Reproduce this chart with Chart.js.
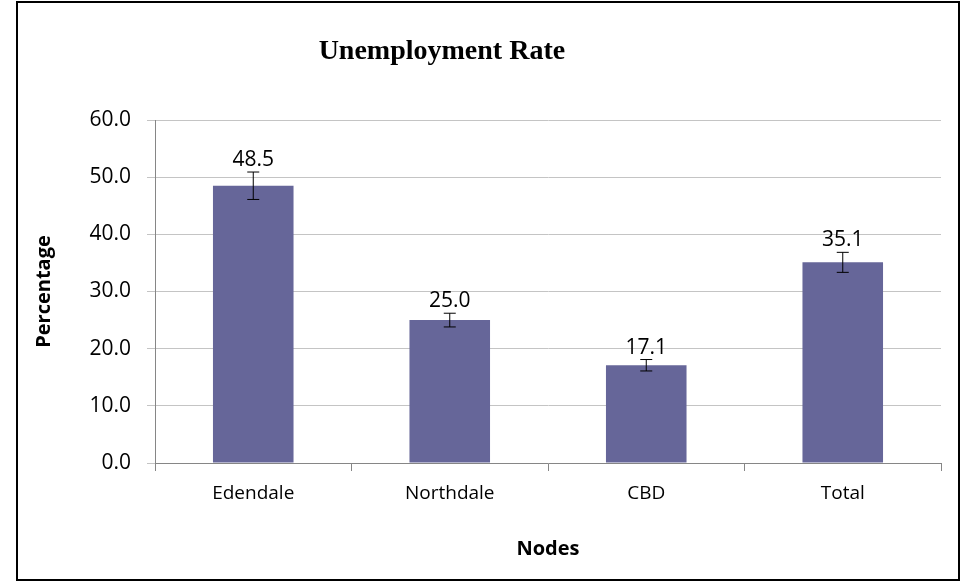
<!DOCTYPE html>
<html>
<head>
<meta charset="utf-8">
<script src="https://cdn.jsdelivr.net/npm/chart.js@4.4.1/dist/chart.umd.min.js"></script>
<style>
  html, body { margin: 0; padding: 0; background: #fff; }
  #wrap { position: relative; width: 960px; height: 581px; }
  #frame { position: absolute; left: 16px; top: 1px; width: 940px; height: 576px; border: 2px solid #000; pointer-events: none; }
</style>
</head>
<body>
<div id="wrap">
  <canvas id="myChart" width="960" height="581"></canvas>
  <div id="frame"></div>
</div>
<script>
const categories = ['Edendale', 'Northdale', 'CBD', 'Total'];
const rates = [48.5, 25.0, 17.1, 35.1];
const errors = [2.4, 1.2, 1.0, 1.75];
const yTicks = [0, 10, 20, 30, 40, 50, 60];

const font = "'Open Sans', 'Noto Sans', sans-serif";

// error bars and value labels on top of each bar
const barExtras = {
  id: 'barExtras',
  afterDatasetsDraw(chart) {
    const { ctx, scales: { y } } = chart;
    const meta = chart.getDatasetMeta(0);
    ctx.save();
    meta.data.forEach((bar, i) => {
      const top = y.getPixelForValue(rates[i] + errors[i]);
      const bottom = y.getPixelForValue(rates[i] - errors[i]);
      ctx.strokeStyle = '#000';
      ctx.lineWidth = 1;
      ctx.beginPath();
      ctx.moveTo(bar.x, top); ctx.lineTo(bar.x, bottom);
      ctx.moveTo(bar.x - 6, top); ctx.lineTo(bar.x + 6, top);
      ctx.moveTo(bar.x - 6, bottom); ctx.lineTo(bar.x + 6, bottom);
      ctx.stroke();

      ctx.fillStyle = '#000';
      ctx.font = `21px ${font}`;
      ctx.textAlign = 'center';
      ctx.textBaseline = 'alphabetic';
      ctx.fillText(rates[i].toFixed(1), bar.x, top - 6);
    });
    ctx.restore();
  }
};

// Excel style title, sitting left of the plot centre
const chartTitle = {
  id: 'chartTitle',
  afterDraw(chart) {
    const { ctx, chartArea } = chart;
    ctx.save();
    ctx.font = "bold 28px 'Liberation Serif', 'Times New Roman', serif";
    ctx.fillStyle = '#000';
    ctx.textAlign = 'center';
    ctx.textBaseline = 'middle';
    ctx.fillText('Unemployment Rate', chartArea.left + chartArea.width * 0.365, 52);
    ctx.restore();
  }
};

new Chart(document.getElementById('myChart'), {
  type: 'bar',
  data: {
    labels: categories,
    datasets: [{
      label: 'Unemployment Rate',
      data: rates,
      backgroundColor: '#666699',
      categoryPercentage: 0.41,
      barPercentage: 1.0
    }]
  },
  options: {
    responsive: false,
    animation: false,
    layout: { padding: { left: 20, right: 19, top: 120, bottom: 12 } },
    plugins: {
      legend: { display: false },
      tooltip: { enabled: false }
    },
    scales: {
      x: {
        grid: {
          offset: true,
          drawOnChartArea: false,
          color: '#868686',
          tickLength: 8
        },
        border: { color: '#868686' },
        ticks: { color: '#000', font: { family: font, size: 19 }, padding: 11 },
        title: {
          display: true,
          text: 'Nodes',
          color: '#000',
          font: { family: font, size: 20, weight: 'bold' },
          padding: { top: 20, bottom: 8 }
        },
        afterFit(scale) { scale.height = 106; }
      },
      y: {
        min: 0,
        max: 60,
        afterBuildTicks(scale) { scale.ticks = yTicks.map(v => ({ value: v })); },
        grid: { color: '#c4c4c4', tickLength: 8 },
        border: { color: '#868686' },
        ticks: {
          color: '#000',
          font: { family: font, size: 21 },
          padding: 16,
          callback: v => v.toFixed(1)
        },
        title: {
          display: true,
          text: 'Percentage',
          color: '#000',
          font: { family: font, size: 20, weight: 'bold' },
          padding: { top: 12, bottom: 10 }
        },
        afterFit(scale) { scale.width = 135; }
      }
    }
  },
  plugins: [barExtras, chartTitle]
});
</script>
</body>
</html>
